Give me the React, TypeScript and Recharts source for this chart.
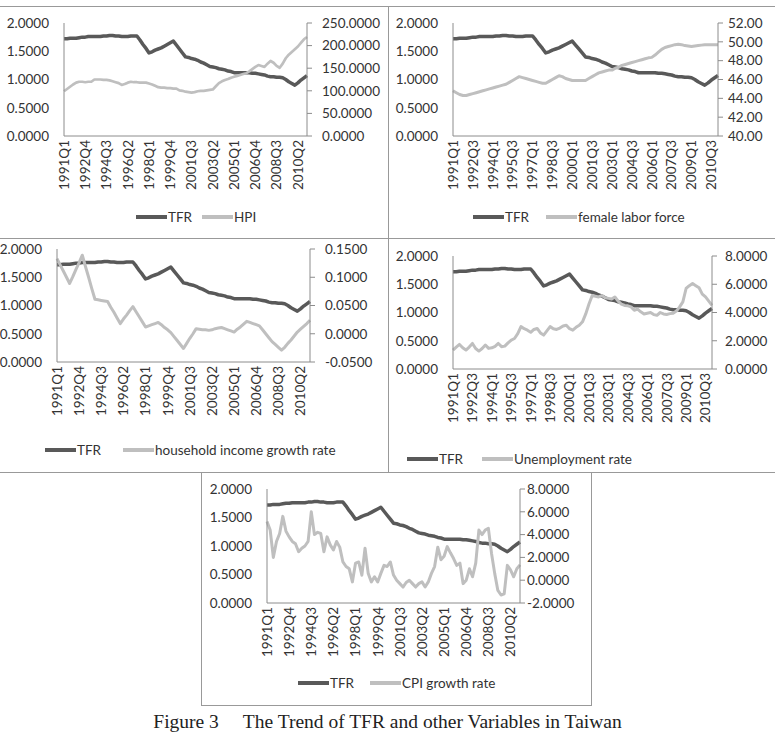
import React from 'react';
import { LineChart, Line, XAxis, YAxis } from 'recharts';

// quarterly categories 1991Q1 .. 2011Q1
const years = [1991, 1992, 1993, 1994, 1995, 1996, 1997, 1998, 1999, 2000, 2001, 2002, 2003, 2004, 2005, 2006, 2007, 2008, 2009, 2010, 2011];
const quarterNames = ['Q1', 'Q2', 'Q3', 'Q4'];
const quarters = years.flatMap((y) => quarterNames.map((q) => `${y}${q}`)).slice(0, 81);

const tfr = [
  1.72, 1.72, 1.73, 1.73, 1.73, 1.74, 1.75, 1.75, 1.76, 1.76, 1.76, 1.76,
  1.76, 1.77, 1.77, 1.78, 1.78, 1.77, 1.77, 1.76, 1.76, 1.76, 1.77, 1.77,
  1.77, 1.70, 1.62, 1.55, 1.47, 1.49, 1.52, 1.54, 1.56, 1.59, 1.62, 1.65,
  1.68, 1.61, 1.54, 1.47, 1.40, 1.39, 1.37, 1.36, 1.34, 1.31, 1.29, 1.26,
  1.23, 1.22, 1.21, 1.19, 1.18, 1.17, 1.15, 1.14, 1.12, 1.12, 1.12, 1.12,
  1.12, 1.12, 1.11, 1.11, 1.10, 1.09, 1.08, 1.06, 1.05, 1.05, 1.04, 1.04,
  1.03, 1.00, 0.96, 0.93, 0.90, 0.94, 0.99, 1.03, 1.07];

const hpi = [
  99, 104, 109, 114, 118, 120, 120, 119, 120, 120, 125, 125,
  125, 124, 124, 123, 121, 119, 117, 113, 115, 118, 120, 119,
  119, 118, 118, 118, 116, 114, 111, 108, 107, 107, 106, 106,
  105, 105, 101, 100, 98, 97, 96, 97, 99, 100, 100, 101,
  102, 103, 110, 117, 121, 124, 126, 129, 131, 133, 135, 137,
  139, 143, 148, 153, 157, 155, 153, 160, 166, 162, 155, 151,
  160, 172, 180, 186, 192, 198, 206, 214, 219];

const femaleLabor = [
  44.8, 44.6, 44.4, 44.3, 44.3, 44.4, 44.5, 44.6, 44.7, 44.8, 44.9, 45.0,
  45.1, 45.2, 45.3, 45.4, 45.5, 45.7, 45.9, 46.1, 46.3, 46.2, 46.1, 46.0,
  45.9, 45.8, 45.7, 45.6, 45.6, 45.8, 46.0, 46.2, 46.4, 46.3, 46.1, 46.0,
  45.9, 45.9, 45.9, 45.9, 45.9, 46.1, 46.3, 46.5, 46.7, 46.8, 46.9, 47.0,
  47.0, 47.2, 47.3, 47.5, 47.6, 47.7, 47.8, 47.9, 48.0, 48.1, 48.2, 48.3,
  48.35, 48.6, 48.9, 49.2, 49.4, 49.5, 49.6, 49.7, 49.75, 49.7, 49.6, 49.55,
  49.5, 49.55, 49.6, 49.65, 49.7, 49.7, 49.7, 49.7, 49.7];

const incomeGrowth = [
  0.133, 0.122, 0.111, 0.100, 0.089, 0.101, 0.114, 0.126, 0.139, 0.119, 0.100, 0.080,
  0.061, 0.060, 0.059, 0.058, 0.057, 0.047, 0.038, 0.028, 0.018, 0.026, 0.033, 0.041,
  0.048, 0.039, 0.030, 0.021, 0.012, 0.014, 0.016, 0.018, 0.020, 0.016, 0.011, 0.007,
  0.002, -0.005, -0.012, -0.019, -0.026, -0.017, -0.008, 0.000, 0.009, 0.008, 0.007, 0.007,
  0.006, 0.007, 0.009, 0.010, 0.011, 0.009, 0.007, 0.005, 0.003, 0.008, 0.012, 0.017,
  0.022, 0.020, 0.018, 0.016, 0.014, 0.007, 0.000, -0.007, -0.014, -0.019, -0.024, -0.029,
  -0.024, -0.017, -0.011, -0.004, 0.003, 0.008, 0.013, 0.018, 0.024];

const unemployment = [
  1.34, 1.55, 1.74, 1.50, 1.34, 1.55, 1.81, 1.45, 1.27, 1.45, 1.70, 1.46,
  1.50, 1.60, 1.81, 1.58, 1.62, 1.85, 2.05, 2.16, 2.50, 3.00, 2.85, 2.75,
  2.60, 2.80, 2.87, 2.55, 2.40, 2.70, 3.00, 2.85, 2.80, 2.90, 3.05, 3.10,
  2.85, 2.75, 2.95, 3.10, 3.34, 3.90, 4.60, 5.20, 5.15, 5.10, 5.20, 5.05,
  5.00, 4.95, 5.10, 4.80, 4.60, 4.50, 4.47, 4.40, 4.16, 4.24, 4.05, 3.90,
  3.95, 4.00, 3.85, 3.80, 4.00, 3.90, 3.86, 3.92, 3.95, 4.10, 4.40, 4.75,
  5.70, 5.90, 6.05, 5.90, 5.75, 5.30, 5.10, 4.80, 4.50];

const cpiGrowth = [
  5.15, 4.4, 2.0, 3.4, 4.1, 5.6, 4.3, 3.8, 3.4, 3.2, 2.5, 2.8,
  3.0, 3.4, 6.0, 4.0, 4.2, 4.1, 2.5, 3.8, 3.1, 2.65, 3.4, 2.9,
  1.6, 1.2, 1.0, -0.15, 1.5, 1.6, 0.44, 2.8, 0.6, -0.15, 0.3, -0.15,
  0.6, 1.3, 1.2, 1.6, 0.45, 0.0, -0.3, -0.6, -0.2, 0.0, -0.3, -0.6,
  -0.3, -0.15, -0.6, -0.15, 0.6, 1.2, 2.9, 1.8, 2.1, 2.95, 2.4, 1.9,
  1.3, 1.5, -0.3, 0.0, 1.0, 0.3, 1.5, 4.4, 4.0, 4.4, 4.55, 2.35,
  0.6, -0.9, -1.3, -1.2, 1.3, 0.9, 0.3, 1.0, 1.35];

const tfrTicks = [0, 0.5, 1, 1.5, 2];
const hpiTicks = [0, 50, 100, 150, 200, 250];
const laborTicks = [40, 42, 44, 46, 48, 50, 52];
const incomeTicks = [-0.05, 0, 0.05, 0.1, 0.15];
const unempTicks = [0, 2, 4, 6, 8];
const cpiTicks = [-2, 0, 2, 4, 6, 8];

const FONT = 'Lato, "Open Sans", sans-serif';
const FS = 13.5;
const TEXT = '#333333';
const DARK = '#595959';
const LIGHT = '#bfbfbf';
const AXIS = '#8c8c8c';
const BORDER = '#999999';
const X_AXIS_H = 70;

const QuarterTick = ({ x, y, payload }: any) => (
  <text
    x={x}
    y={y}
    transform={`rotate(-90, ${x}, ${y})`}
    textAnchor="end"
    dy="0.36em"
    fill={TEXT}
    fontSize={FS}
    fontFamily={FONT}>
    {payload.value}
  </text>
);

function LegendKey({ x, y, color, label }: { x: number; y: number; color: string; label: string }) {
  return (
    <>
      <div style={{ position: 'absolute', left: x, top: y - 2, width: 31, height: 4, background: color }} />
      <div
        style={{
          position: 'absolute', left: x + 32, top: y - 9, fontSize: FS, lineHeight: '18px',
          fontFamily: FONT, color: TEXT, whiteSpace: 'nowrap'
        }}>
        {label}
      </div>
    </>
  );
}

interface PanelProps {
  box: { x: number; y: number; w: number; h: number };
  plot: { left: number; right: number; top: number; bottom: number };
  values: number[];
  name: string;
  domain: [number, number];
  ticks: number[];
  digits: number;
  interval: number;
  rightGap: number;
  legend: { y: number; tfrX: number; otherX: number };
  otherWidth?: number;
}

function Panel({ box, plot, values, name, domain, ticks, digits, interval, rightGap, legend, otherWidth = 3 }: PanelProps) {
  const rows = quarters.map((q, i) => ({ q, tfr: tfr[i], other: values[i] }));
  const leftW = plot.left - box.x;
  const rightW = box.x + box.w - plot.right;
  const bottomMargin = box.y + box.h - plot.bottom - X_AXIS_H;
  const tickStyle = { fill: TEXT, fontSize: FS, fontFamily: FONT };
  return (
    <>
      <div style={{ position: 'absolute', left: box.x, top: box.y }}>
        <LineChart
          width={box.w}
          height={box.h}
          data={rows}
          margin={{ top: plot.top - box.y, right: 0, bottom: bottomMargin, left: 0 }}>
          <XAxis
            dataKey="q"
            interval={interval}
            height={X_AXIS_H}
            tickLine={false}
            tickSize={0}
            tickMargin={4}
            axisLine={{ stroke: AXIS }}
            tick={<QuarterTick />} />
          <YAxis
            yAxisId="l"
            domain={[0, 2]}
            ticks={tfrTicks}
            interval={0}
            width={leftW}
            tickFormatter={(v: number) => v.toFixed(4)}
            tickLine={false}
            tickSize={0}
            tickMargin={15}
            axisLine={{ stroke: AXIS }}
            tick={tickStyle} />
          <YAxis
            yAxisId="r"
            orientation="right"
            domain={domain}
            ticks={ticks}
            interval={0}
            width={rightW}
            tickFormatter={(v: number) => v.toFixed(digits)}
            tickLine={{ stroke: AXIS }}
            tickSize={5}
            tickMargin={rightGap}
            axisLine={{ stroke: AXIS }}
            tick={tickStyle} />
          <Line
            yAxisId="l"
            dataKey="tfr"
            stroke={DARK}
            strokeWidth={3.5}
            strokeLinejoin="round"
            dot={false}
            isAnimationActive={false} />
          <Line
            yAxisId="r"
            dataKey="other"
            stroke={LIGHT}
            strokeWidth={otherWidth}
            strokeLinejoin="round"
            dot={false}
            isAnimationActive={false} />
        </LineChart>
      </div>
      <LegendKey x={legend.tfrX} y={legend.y} color={DARK} label="TFR" />
      <LegendKey x={legend.otherX} y={legend.y} color={LIGHT} label={name} />
    </>
  );
}

const line = (left: number, top: number, width: number, height: number) => (
  <div style={{ position: 'absolute', left, top, width, height, background: BORDER }} />
);

export default function App() {
  return (
    <div style={{ position: 'absolute', left: 0, top: 0, width: 775, height: 734, background: '#fff', overflow: 'hidden' }}>
      {line(0, 6, 775, 1)}
      {line(0, 238, 775, 1)}
      {line(388, 6, 1, 466)}
      {line(0, 472, 775, 1)}
      {line(201, 472, 1, 234)}
      {line(591, 472, 1, 234)}
      {line(201, 705, 391, 1)}

      <Panel
        box={{ x: 0, y: 7, w: 388, h: 231 }}
        plot={{ left: 64, right: 307, top: 23, bottom: 136 }}
        values={hpi}
        name="HPI"
        domain={[0, 250]}
        ticks={hpiTicks}
        digits={4}
        interval={6}
        rightGap={10}
        otherWidth={2.7}
        legend={{ y: 217, tfrX: 136, otherX: 202 }} />
      <Panel
        box={{ x: 389, y: 7, w: 386, h: 231 }}
        plot={{ left: 453, right: 718, top: 23, bottom: 136 }}
        values={femaleLabor}
        name="female labor force"
        domain={[40, 52]}
        ticks={laborTicks}
        digits={2}
        interval={5}
        rightGap={5}
        legend={{ y: 217, tfrX: 473, otherX: 546 }} />
      <Panel
        box={{ x: 0, y: 239, w: 388, h: 233 }}
        plot={{ left: 57, right: 310, top: 249, bottom: 362 }}
        values={incomeGrowth}
        name="household income growth rate"
        domain={[-0.05, 0.15]}
        ticks={incomeTicks}
        digits={4}
        interval={6}
        rightGap={10}
        legend={{ y: 450, tfrX: 45, otherX: 123 }} />
      <Panel
        box={{ x: 389, y: 239, w: 386, h: 233 }}
        plot={{ left: 453, right: 712, top: 256, bottom: 369 }}
        values={unemployment}
        name="Unemployment rate"
        domain={[0, 8]}
        ticks={unempTicks}
        digits={4}
        interval={5}
        rightGap={8}
        legend={{ y: 459, tfrX: 407, otherX: 482 }} />
      <Panel
        box={{ x: 202, y: 473, w: 389, h: 232 }}
        plot={{ left: 267, right: 520, top: 489, bottom: 603 }}
        values={cpiGrowth}
        name="CPI growth rate"
        domain={[-2, 8]}
        ticks={cpiTicks}
        digits={4}
        interval={6}
        rightGap={2}
        legend={{ y: 683, tfrX: 298, otherX: 370 }} />

      <div
        style={{
          position: 'absolute', left: 0, width: 775, top: 711, textAlign: 'center',
          fontFamily: '"Liberation Serif", "Times New Roman", serif', fontSize: 19.5,
          lineHeight: '22px', color: '#222', whiteSpace: 'pre'
        }}>
        {'Figure 3\u2003 The Trend of TFR and other Variables in Taiwan'}
      </div>
    </div>
  );
}
